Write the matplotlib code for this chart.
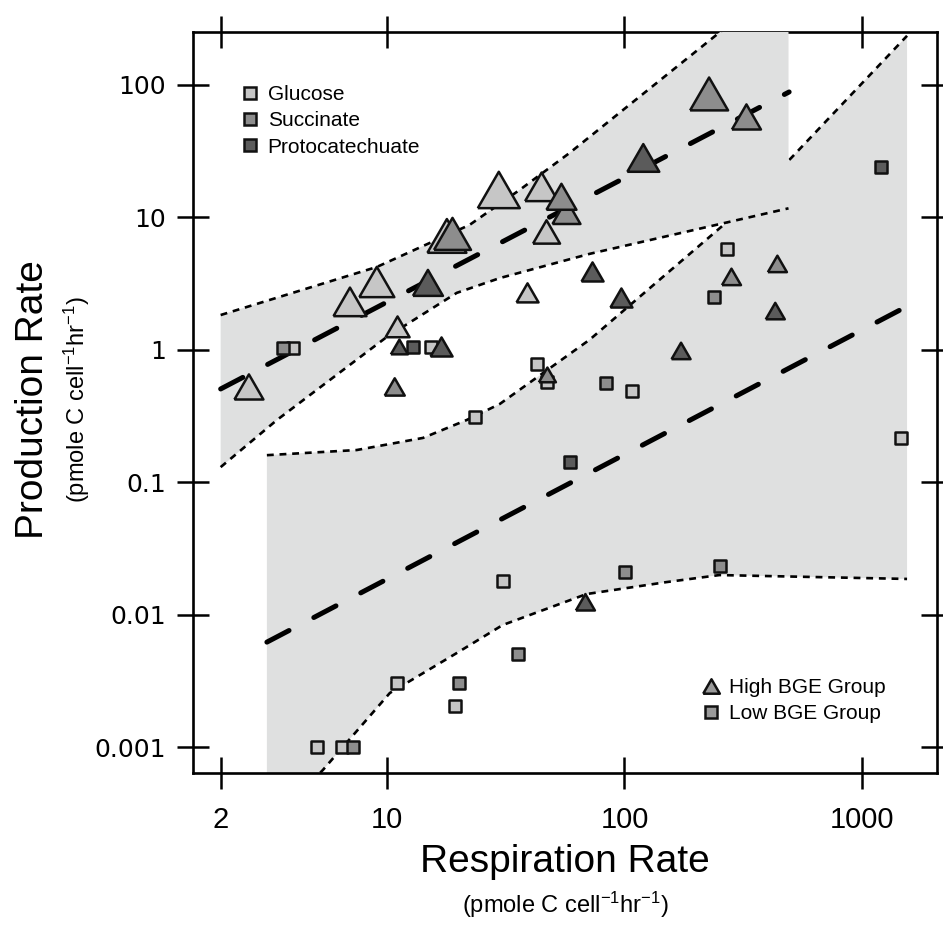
import matplotlib
matplotlib.use('Agg')
import matplotlib.pyplot as plt
from matplotlib.lines import Line2D
from matplotlib import font_manager

plt.rcParams['font.family'] = ['Liberation Sans', 'DejaVu Sans']
plt.rcParams['mathtext.fontset'] = 'custom'
plt.rcParams['mathtext.rm'] = 'Liberation Sans'
plt.rcParams['mathtext.it'] = 'Liberation Sans:italic'
plt.rcParams['mathtext.bf'] = 'Liberation Sans:bold'

# ---- values ----
substrates = ['Glucose', 'Succinate', 'Protocatechuate']
groups = ['High BGE Group', 'Low BGE Group']

# High BGE group (triangles); w = drawn triangle width (px)
hi_glu_x = [2.63, 7.0, 9.08, 11.1, 17.9, 29.6, 44.8, 47.0, 39.1]
hi_glu_y = [0.524, 2.30, 3.25, 1.49, 7.24, 16.1, 17.0, 7.76, 2.69]
hi_glu_w = [32, 36, 38, 27, 42, 45, 36, 30, 25]

hi_suc_x = [10.8, 18.9, 57.0, 54.3, 47.4, 227, 326, 282, 440]
hi_suc_y = [0.524, 7.5, 11.0, 14.3, 0.646, 85.5, 57.3, 3.55, 4.45]
hi_suc_w = [23, 40, 31, 33, 20, 41, 32, 22, 22]

hi_pro_x = [14.9, 11.3, 17.0, 120, 73.4, 97.1, 431, 173, 68.5]
hi_pro_y = [3.2, 1.05, 1.05, 28.1, 3.87, 2.46, 1.96, 0.98, 0.0124]
hi_pro_w = [33, 20, 25, 35, 25, 25, 22, 22, 22]

# Low BGE group (squares)
lo_glu_x = [4.03, 15.3, 42.7, 47.4, 108, 23.5, 271, 1460, 30.7, 11.0, 19.3, 5.08, 6.47]
lo_glu_y = [1.03, 1.05, 0.78, 0.571, 0.489, 0.31, 5.77, 0.216, 0.018, 0.00304,
            0.00204, 0.001, 0.001]
lo_suc_x = [3.66, 84, 239, 101, 253, 35.5, 20.1, 7.2]
lo_suc_y = [1.03, 0.561, 2.51, 0.021, 0.0233, 0.00503, 0.00304, 0.001]
lo_pro_x = [12.9, 1202, 58.8]
lo_pro_y = [1.05, 24.0, 0.142]

# regression lines
hi_fit_x = [2.0, 493]
hi_fit_y = [0.506, 88.5]
lo_fit_x = [3.13, 1545]
lo_fit_y = [0.0062, 2.13]

# confidence bands
ub_top_x = [2.0, 9.08, 22.3, 36.2, 58.7, 244, 490]
ub_top_y = [1.83, 4.22, 8.77, 16.1, 30.6, 239, 640]
ub_bot_x = [2.0, 3.45, 10, 19.7, 29.9, 71.3, 490]
ub_bot_y = [0.130, 0.295, 1.25, 2.69, 3.48, 5.30, 11.7]

lb_top_x = [3.13, 7.48, 14.2, 21.7, 29.9, 71.3, 276, 503, 1545]
lb_top_y = [0.160, 0.175, 0.216, 0.295, 0.39, 1.19, 9.55, 28.1, 235]
lb_bot_x = [3.13, 5.38, 10.3, 19.7, 30.7, 69.2, 150, 251, 1545]
lb_bot_y = [0.00025, 0.00067, 0.00256, 0.00513, 0.00834, 0.0143, 0.0176, 0.0199, 0.0186]

xticks = [2, 10, 100, 1000]
yticks = [0.001, 0.01, 0.1, 1, 10, 100]
ytick_labels = ['0.001', '0.01', '0.1', '1', '10', '100']

# ---- style ----
cols = ['#c6c6c6', '#8d8d8d', '#5b5b5b']
band = '#dfe0e0'
edge = '#111111'
tri = [(-1, -0.866), (1, -0.866), (0, 0.866), (-1, -0.866)]
dotted = (0, (2.6, 2.2))

installed = {f.name for f in font_manager.fontManager.ttflist}
narrow = 'Liberation Sans Narrow' in installed

fig = plt.figure(figsize=(9.43, 9.31), dpi=100)
ax = fig.add_axes([193 / 943, 1 - 773 / 931, 744 / 943, 741 / 931])
ax.set_xscale('log')
ax.set_yscale('log')

# lower band first, upper band drawn over it
ax.fill(lb_top_x + lb_bot_x[::-1], lb_top_y + lb_bot_y[::-1], color=band, lw=0, zorder=1)
ax.plot(lb_top_x, lb_top_y, color='k', lw=1.9, ls=dotted, zorder=2)
ax.plot(lb_bot_x, lb_bot_y, color='k', lw=1.9, ls=dotted, zorder=2)
ax.fill(ub_top_x + ub_bot_x[::-1], ub_top_y + ub_bot_y[::-1], color=band, lw=0, zorder=3)
ax.plot(ub_top_x, ub_top_y, color='k', lw=1.9, ls=dotted, zorder=4)
ax.plot(ub_bot_x, ub_bot_y, color='k', lw=1.9, ls=dotted, zorder=4)

for fx, fy in [(hi_fit_x, hi_fit_y), (lo_fit_x, lo_fit_y)]:
    ax.plot(fx, fy, color='k', lw=3.6, ls=(0, (5, 5.6)),
            dash_capstyle='round', solid_capstyle='round', zorder=5)

lo_sets = [(lo_glu_x, lo_glu_y), (lo_suc_x, lo_suc_y), (lo_pro_x, lo_pro_y)]
for (xs, ys), c in zip(lo_sets, cols):
    ax.scatter(xs, ys, marker='s', s=8.5 ** 2, facecolor=c, edgecolor=edge,
               linewidth=1.8, zorder=6)

hi_sets = [(hi_glu_x, hi_glu_y, hi_glu_w), (hi_suc_x, hi_suc_y, hi_suc_w),
           (hi_pro_x, hi_pro_y, hi_pro_w)]
for (xs, ys, ws), c in zip(hi_sets, cols):
    sizes = [((w - 3) * 0.72) ** 2 for w in ws]
    ax.scatter(xs, ys, marker=tri, s=sizes, facecolor=c, edgecolor=edge,
               linewidth=1.8, zorder=7)

ax.set_xlim(1.53, 2065)
ax.set_ylim(0.000637, 251)
ax.set_xticks(xticks)
ax.set_xticklabels([str(t) for t in xticks])
ax.set_yticks(yticks)
ax.set_yticklabels(ytick_labels)
ax.minorticks_off()
ax.tick_params(which='major', direction='inout', length=23, width=1.8,
               top=True, right=True, color='k')
ax.tick_params(axis='x', pad=12, labelsize=24 if narrow else 21)
ax.tick_params(axis='y', pad=8, labelsize=18)
for lab in ax.get_xticklabels():
    lab.set_family('Liberation Sans Narrow' if narrow else 'Liberation Sans')
for lab in ax.get_yticklabels():
    lab.set_family('DejaVu Sans')
for sp in ax.spines.values():
    sp.set_linewidth(1.9)

# legends
h1 = [Line2D([], [], ls='none', marker='s', ms=8, mfc=c, mec=edge, mew=1.8)
      for c in cols]
leg1 = ax.legend(h1, substrates, loc='upper left', bbox_to_anchor=(0.0626, 0.928),
                 frameon=False, fontsize=15, handlelength=1.0, handletextpad=0.35,
                 labelspacing=0.34, borderpad=0, borderaxespad=0)
ax.add_artist(leg1)
h2 = [Line2D([], [], ls='none', marker=tri, ms=12, mfc='#9a9a9a', mec=edge, mew=1.8),
      Line2D([], [], ls='none', marker='s', ms=8, mfc='#9a9a9a', mec=edge, mew=1.8)]
ax.legend(h2, groups, loc='upper left', bbox_to_anchor=(0.682, 0.128),
          frameon=False, fontsize=15, handlelength=1.0, handletextpad=0.35,
          labelspacing=0.34, borderpad=0, borderaxespad=0)

# axis titles
fig.text(565 / 943, 1 - 862 / 931, 'Respiration Rate', fontsize=28,
         ha='center', va='center')
fig.text(565 / 943, 1 - 905 / 931, r'(pmole C cell$^{-1}$hr$^{-1}$)', fontsize=17,
         ha='center', va='center')
fig.text(33 / 943, 1 - 400 / 931, 'Production Rate', fontsize=28,
         ha='center', va='center', rotation=90)
fig.text(77 / 943, 1 - 400 / 931, r'(pmole C cell$^{-1}$hr$^{-1}$)', fontsize=17,
         ha='center', va='center', rotation=90)

fig.savefig('out.png', dpi=100)
